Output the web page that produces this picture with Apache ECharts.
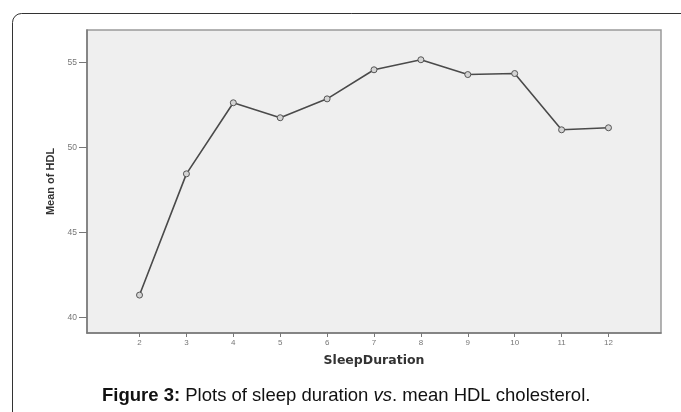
<!DOCTYPE html>
<html>
<head>
<meta charset="utf-8">
<script src="https://cdn.jsdelivr.net/npm/echarts@6/dist/echarts.min.js"></script>
<style>
html,body{margin:0;padding:0;background:#fff;}
#chart{width:681px;height:412px;}
</style>
</head>
<body>
<div id="chart"></div>
<script>
const sleepDuration = [2, 3, 4, 5, 6, 7, 8, 9, 10, 11, 12];
const meanHDL = [41.31, 48.44, 52.62, 51.74, 52.85, 54.56, 55.15, 54.28, 54.34, 51.03, 51.15];
const xTicks = [2, 3, 4, 5, 6, 7, 8, 9, 10, 11, 12];
const yTicks = [40, 45, 50, 55];

const chart = echarts.init(document.getElementById('chart'), null, {renderer: 'canvas'});
chart.setOption({
  animation: false,
  backgroundColor: '#ffffff',
  grid: {
    left: 87, top: 30, right: 20, bottom: 79,
    show: true, backgroundColor: '#efefef', borderColor: '#9a9a9a', borderWidth: 1.5
  },
  xAxis: {
    type: 'value', min: 0.88, max: 13.12,
    name: 'SleepDuration', nameLocation: 'middle', nameGap: 21,
    nameTextStyle: {fontFamily: 'DejaVu Sans', fontWeight: 'bold', fontSize: 12.5, color: '#333'},
    axisLine: {show: true, onZero: false, lineStyle: {color: '#777', width: 1.5}},
    axisTick: {show: true, length: 4, customValues: xTicks, lineStyle: {color: '#777'}},
    axisLabel: {customValues: xTicks, fontSize: 8, color: '#777', margin: 6, fontFamily: 'Liberation Sans'},
    splitLine: {show: false}
  },
  yAxis: {
    type: 'value', min: 39.08, max: 56.9,
    name: 'Mean of HDL', nameLocation: 'middle', nameGap: 30, nameRotate: 90,
    nameTextStyle: {fontFamily: '"Liberation Sans Narrow", "Liberation Sans"', fontWeight: 'bold', fontSize: 11, color: '#333'},
    axisLine: {show: true, onZero: false, lineStyle: {color: '#777', width: 1.5}},
    axisTick: {show: true, length: 8, customValues: yTicks, lineStyle: {color: '#777'}},
    axisLabel: {customValues: yTicks, fontSize: 8.5, color: '#777', margin: 10, fontFamily: 'Liberation Sans'},
    splitLine: {show: false}
  },
  series: [{
    type: 'line',
    data: sleepDuration.map((x, i) => [x, meanHDL[i]]),
    symbol: 'circle', symbolSize: 6,
    lineStyle: {color: '#4a4a4a', width: 1.6},
    itemStyle: {color: '#d4d4d4', borderColor: '#555', borderWidth: 1}
  }],
  graphic: [
    {
      type: 'rect', left: 10, top: 11, z: -1, silent: true,
      shape: {width: 720, height: 460, r: 9},
      style: {fill: 'none', stroke: '#333', lineWidth: 1}
    },
    {
      type: 'text', left: 102, top: 386,
      style: {
        text: '{b|Figure 3:} Plots of sleep duration {i|vs}. mean HDL cholesterol.',
        font: '18.5px "Liberation Sans"', fill: '#111',
        rich: {
          b: {fontWeight: 'bold', fontSize: 18.5, fontFamily: 'Liberation Sans', fill: '#111'},
          i: {fontStyle: 'italic', fontSize: 18.5, fontFamily: 'Liberation Sans', fill: '#111'}
        }
      }
    }
  ]
});
</script>
</body>
</html>
